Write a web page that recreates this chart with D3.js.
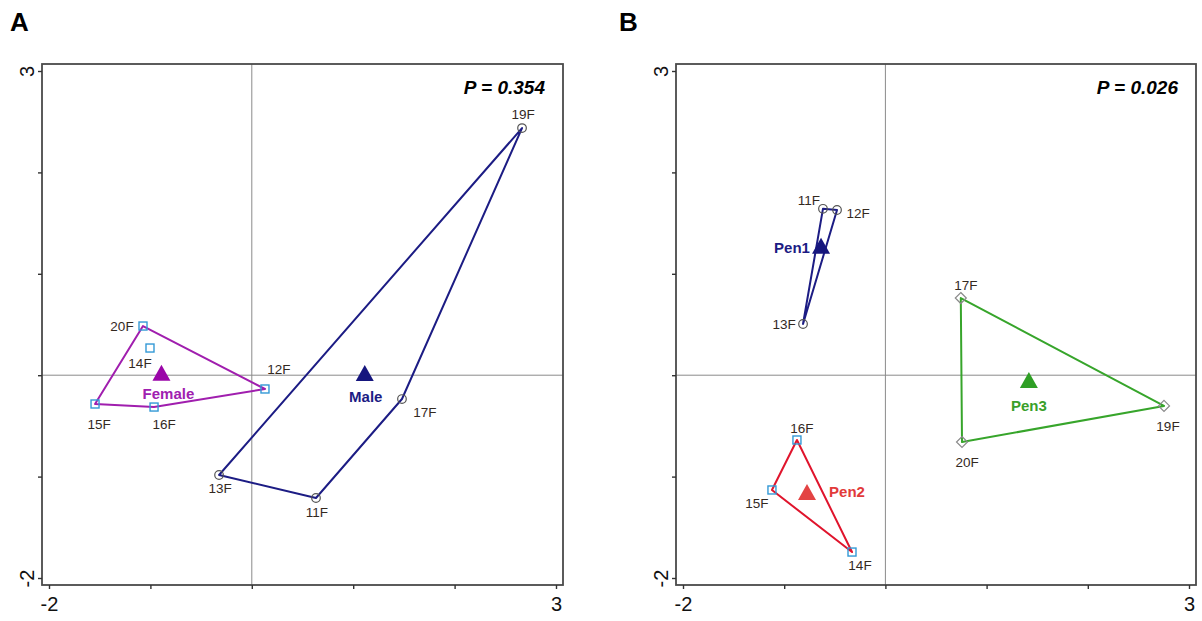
<!DOCTYPE html>
<html>
<head>
<meta charset="utf-8">
<script src="https://cdn.jsdelivr.net/npm/d3@7"></script>
<style>
  body { margin: 0; background: #fff; }
  text { font-family: "Liberation Sans", Arial, sans-serif; }
</style>
</head>
<body>
<div id="chart"></div>
<script>
// ---- data ----
const ticks = [-2, -1, 0, 1, 2, 3];
const tickLabels = ["-2", "", "", "", "", "3"];

// panel A: sex
const idsA = ["19F", "17F", "11F", "13F", "12F", "20F", "14F", "15F", "16F"];
const xA = [2.665, 1.481, 0.633, -0.323, 0.130, -1.073, -1.004, -1.546, -0.964];
const yA = [2.437, -0.235, -1.211, -0.984, -0.136, 0.485, 0.268, -0.284, -0.314];
const groupA = ["Male", "Male", "Male", "Male", "Female", "Female", "Female", "Female", "Female"];
const groupsA = ["Female", "Male"];
const hullsA = [["20F", "12F", "16F", "15F"], ["19F", "17F", "11F", "13F"]];
const centerXA = [-0.891, 1.114];
const centerYA = [0.004, 0.002];
const pTextA = "P = 0.354";

// panel B: pen
const idsB = ["11F", "12F", "13F", "14F", "15F", "16F", "17F", "19F", "20F"];
const xB = [-0.617, -0.478, -0.814, -0.330, -1.121, -0.874, 0.745, 2.753, 0.757];
const yB = [1.641, 1.629, 0.505, -1.744, -1.132, -0.639, 0.761, -0.303, -0.659];
const groupB = ["Pen1", "Pen1", "Pen1", "Pen2", "Pen2", "Pen2", "Pen3", "Pen3", "Pen3"];
const groupsB = ["Pen1", "Pen2", "Pen3"];
const hullsB = [["11F", "12F", "13F"], ["16F", "14F", "15F"], ["17F", "19F", "20F"]];
const centerXB = [-0.636, -0.775, 1.418];
const centerYB = [1.258, -1.172, -0.067];
const pTextB = "P = 0.026";

// ---- styling ----
const style = {
  Female: {line: "#a01eae", tri: "#9a06a8", text: "#a020b0", marker: "square"},
  Male:   {line: "#1c1c84", tri: "#16167e", text: "#1c1c84", marker: "circle"},
  Pen1:   {line: "#1c1c84", tri: "#16167e", text: "#1c1c84", marker: "circle"},
  Pen2:   {line: "#e0142c", tri: "#e34343", text: "#e23a3a", marker: "square"},
  Pen3:   {line: "#37a52b", tri: "#2f9f25", text: "#3a9f2a", marker: "diamond"}
};

// label offsets in px (layout only)
const labelOffA = {
  "19F": [1, -14], "17F": [23, 13], "11F": [1, 14], "13F": [1, 13], "12F": [14, -20],
  "20F": [-21, 0], "14F": [-10, 15], "15F": [4, 20], "16F": [10, 17],
  "Female": [7, 19], "Male": [1, 22]
};
const labelOffB = {
  "11F": [-14, -9], "12F": [21, 3], "13F": [-19, 0], "16F": [5, -12], "15F": [-15, 13],
  "14F": [8, 13], "17F": [5, -13], "20F": [5, 20], "19F": [4, 20],
  "Pen1": [-29, 0], "Pen2": [40, -2], "Pen3": [0, 24]
};

const W = 1202, H = 621;
const svg = d3.select("#chart").append("svg")
  .attr("width", W).attr("height", H);

function drawPanel(cfg) {
  const x = d3.scaleLinear().domain([-2, 3]).range(cfg.xRange);
  const y = d3.scaleLinear().domain([-2, 3]).range([578, 71]);
  const pad = 7;
  const left = cfg.xRange[0] - pad, right = cfg.xRange[1] + pad;
  const top = 71 - pad, bottom = 578 + pad;
  const g = svg.append("g");

  // panel letter
  g.append("text")
    .attr("x", cfg.letterX).attr("y", 31)
    .style("font-size", "26px").style("font-weight", "900")
    .text(cfg.letter);

  // zero lines
  g.append("line")
    .attr("x1", x(0)).attr("x2", x(0)).attr("y1", top).attr("y2", bottom)
    .attr("stroke", "#8a8a8a").attr("stroke-width", 1);
  g.append("line")
    .attr("x1", left).attr("x2", right).attr("y1", y(0)).attr("y2", y(0))
    .attr("stroke", "#8a8a8a").attr("stroke-width", 1);

  // frame
  g.append("rect")
    .attr("x", left).attr("y", top)
    .attr("width", right - left).attr("height", bottom - top)
    .attr("fill", "none").attr("stroke", "#4a4a4a").attr("stroke-width", 1.8);

  // axes
  const xAxis = g.append("g")
    .attr("transform", `translate(0,${bottom})`)
    .call(d3.axisBottom(x).tickValues(ticks).tickSize(4).tickPadding(8)
      .tickFormat((d, i) => tickLabels[i]));
  const yAxis = g.append("g")
    .attr("transform", `translate(${left},0)`)
    .call(d3.axisLeft(y).tickValues(ticks).tickSize(4)
      .tickFormat((d, i) => tickLabels[i]));
  [xAxis, yAxis].forEach(a => {
    a.select(".domain").remove();
    a.selectAll(".tick line").attr("stroke", "#333").attr("stroke-width", 1.4);
    a.selectAll(".tick text")
      .style("font-size", "20px").style("font-family", "Liberation Sans, Arial, sans-serif")
      .attr("fill", "#111");
  });
  yAxis.selectAll(".tick text")
    .attr("transform", "rotate(-90)")
    .attr("x", 0).attr("y", -15).attr("dy", "0.35em")
    .attr("text-anchor", "middle");

  // P value
  g.append("text")
    .attr("x", right - 18).attr("y", 94)
    .attr("text-anchor", "end")
    .style("font-size", "19px").style("font-weight", "bold").style("font-style", "italic")
    .text(cfg.pText);

  const pts = cfg.ids.map((id, i) => ({id: id, x: cfg.xs[i], y: cfg.ys[i], group: cfg.group[i]}));
  const byId = {};
  pts.forEach(p => byId[p.id] = p);

  // hull polygons
  g.selectAll(".hull")
    .data(cfg.hulls)
    .join("polygon")
    .attr("points", h => h.map(id => [x(byId[id].x), y(byId[id].y)].join(",")).join(" "))
    .attr("fill", "none")
    .attr("stroke", (h) => style[byId[h[0]].group].line)
    .attr("stroke-width", 2)
    .attr("stroke-linejoin", "round");

  // markers
  pts.forEach(p => {
    const px = x(p.x), py = y(p.y);
    const m = style[p.group].marker;
    if (m === "square") {
      g.append("rect")
        .attr("x", px - 4).attr("y", py - 4).attr("width", 8).attr("height", 8)
        .attr("fill", "none").attr("stroke", "#3399d6").attr("stroke-width", 1.4);
    } else if (m === "circle") {
      g.append("circle")
        .attr("cx", px).attr("cy", py).attr("r", 4.3)
        .attr("fill", "none").attr("stroke", "#555").attr("stroke-width", 1.2);
    } else {
      g.append("path")
        .attr("d", `M${px},${py - 5.5}L${px + 5.5},${py}L${px},${py + 5.5}L${px - 5.5},${py}Z`)
        .attr("fill", "none").attr("stroke", "#8a8a8a").attr("stroke-width", 1.2);
    }
  });

  // point labels
  g.selectAll(".ptlabel")
    .data(pts)
    .join("text")
    .attr("x", d => x(d.x) + cfg.off[d.id][0])
    .attr("y", d => y(d.y) + cfg.off[d.id][1])
    .attr("dy", "0.35em")
    .attr("text-anchor", "middle")
    .attr("fill", "#33291f")
    .style("font-size", "13.5px")
    .text(d => d.id);

  // group centroids
  const cents = cfg.groups.map((gname, i) => ({name: gname, x: cfg.cx[i], y: cfg.cy[i]}));
  g.selectAll(".cent")
    .data(cents)
    .join("path")
    .attr("d", d => {
      const px = x(d.x), py = y(d.y);
      return `M${px},${py - 10}L${px + 9},${py + 6}L${px - 9},${py + 6}Z`;
    })
    .attr("fill", d => style[d.name].tri);
  g.selectAll(".centlabel")
    .data(cents)
    .join("text")
    .attr("x", d => x(d.x) + cfg.off[d.name][0])
    .attr("y", d => y(d.y) + cfg.off[d.name][1])
    .attr("dy", "0.35em")
    .attr("text-anchor", "middle")
    .attr("fill", d => style[d.name].text)
    .style("font-size", "15px").style("font-weight", "bold")
    .text(d => d.name);
}

drawPanel({
  letter: "A", letterX: 10, xRange: [49, 556], pText: pTextA,
  ids: idsA, xs: xA, ys: yA, group: groupA, groups: groupsA, hulls: hullsA,
  cx: centerXA, cy: centerYA, off: labelOffA
});
drawPanel({
  letter: "B", letterX: 619, xRange: [683, 1189], pText: pTextB,
  ids: idsB, xs: xB, ys: yB, group: groupB, groups: groupsB, hulls: hullsB,
  cx: centerXB, cy: centerYB, off: labelOffB
});
</script>
</body>
</html>
